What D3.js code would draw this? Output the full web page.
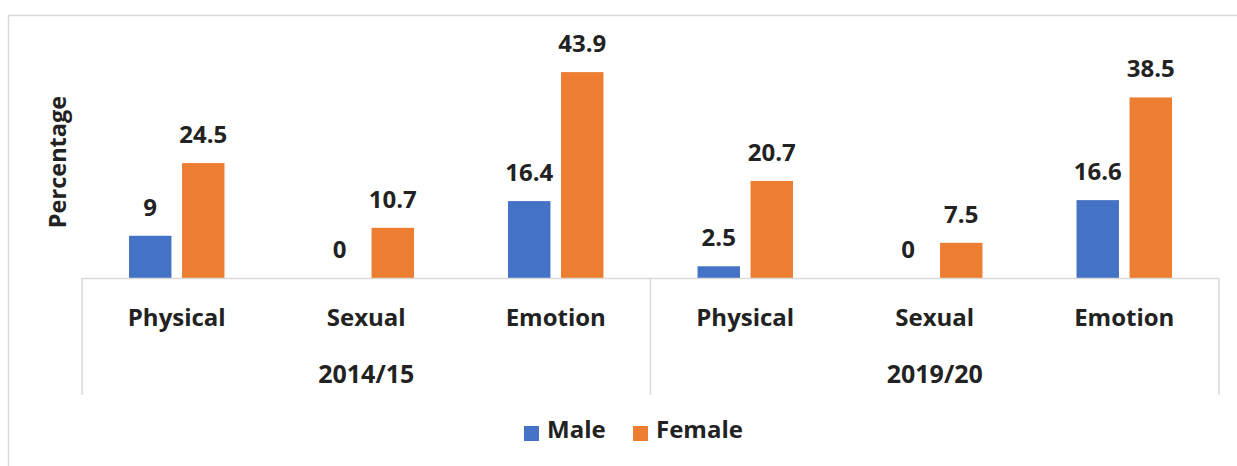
<!DOCTYPE html>
<html>
<head>
<meta charset="utf-8">
<script src="https://cdn.jsdelivr.net/npm/d3@7"></script>
<style>
  html, body { margin: 0; padding: 0; background: #fff; }
  svg { display: block; }
  text { font-family: "Open Sans", "DejaVu Sans", sans-serif; font-weight: 700; fill: #222; }
</style>
</head>
<body>
<svg id="chart" width="1237" height="466"></svg>
<script>
const years = ["2014/15", "2019/20"];
const categories = ["Physical", "Sexual", "Emotion"];
const seriesNames = ["Male", "Female"];
const maleValues = [9, 0, 16.4, 2.5, 0, 16.6];
const femaleValues = [24.5, 10.7, 43.9, 20.7, 7.5, 38.5];
const colors = ["#4472C4", "#ED7D31"];

const svg = d3.select("#chart");
const W = 1237, H = 466;
const left = 82, right = 1219, baseY = 278, topY = 43.5, divBottom = 395;
const gridColor = "#d9d9d9";

// outer frame
svg.append("rect")
  .attr("x", 8.5).attr("y", 15.5)
  .attr("width", W + 20).attr("height", H + 20)
  .attr("fill", "none").attr("stroke", gridColor).attr("stroke-width", 1.5);

const xYear = d3.scaleBand().domain(years).range([left, right]);
const xCat = d3.scaleBand().domain(categories).range([0, xYear.bandwidth()]);
const xSer = d3.scaleBand().domain(seriesNames).range([0, xCat.bandwidth()])
  .paddingInner(0.2).paddingOuter(0.887);
const y = d3.scaleLinear().domain([0, 50]).range([baseY, topY]);

const rows = [];
years.forEach((yr, i) => {
  categories.forEach((c, j) => {
    const k = i * categories.length + j;
    rows.push({ year: yr, cat: c, values: [maleValues[k], femaleValues[k]] });
  });
});

// bars
const g = svg.append("g");
rows.forEach(r => {
  const x0 = xYear(r.year) + xCat(r.cat);
  seriesNames.forEach((s, si) => {
    const v = r.values[si];
    const bx = x0 + xSer(s);
    g.append("rect")
      .attr("x", bx).attr("y", y(v))
      .attr("width", xSer.bandwidth()).attr("height", baseY - y(v))
      .attr("fill", colors[si]);
    g.append("text")
      .attr("x", bx + xSer.bandwidth() / 2)
      .attr("y", y(v) - 20)
      .attr("text-anchor", "middle")
      .attr("font-size", 24)
      .text(d3.format("~g")(v));
  });
  g.append("text")
    .attr("x", x0 + xCat.bandwidth() / 2)
    .attr("y", 326)
    .attr("text-anchor", "middle")
    .attr("font-size", 24)
    .text(r.cat);
});

// axis baseline and group dividers
svg.append("line")
  .attr("x1", left).attr("x2", right)
  .attr("y1", baseY + 0.5).attr("y2", baseY + 0.5)
  .attr("stroke", gridColor).attr("stroke-width", 1.5);
const dividers = years.map(yr => xYear(yr)).concat([xYear(years[years.length - 1]) + xYear.bandwidth()]);
svg.selectAll(".div").data(dividers).enter().append("line")
  .attr("x1", d => d).attr("x2", d => d)
  .attr("y1", baseY).attr("y2", divBottom)
  .attr("stroke", gridColor).attr("stroke-width", 1.5);

// year labels
years.forEach(yr => {
  svg.append("text")
    .attr("x", xYear(yr) + xYear.bandwidth() / 2)
    .attr("y", 383)
    .attr("text-anchor", "middle")
    .attr("font-size", 25)
    .text(yr);
});

// y axis title
svg.append("text")
  .attr("transform", "translate(66,162) rotate(-90)")
  .attr("text-anchor", "middle")
  .attr("font-size", 23.5)
  .text("Percentage");

// legend
const legendX = [524, 633];
seriesNames.forEach((s, i) => {
  svg.append("rect")
    .attr("x", legendX[i]).attr("y", 426)
    .attr("width", 15).attr("height", 15)
    .attr("fill", colors[i]);
  svg.append("text")
    .attr("x", legendX[i] + 23).attr("y", 438)
    .attr("font-size", 24)
    .text(s);
});
</script>
</body>
</html>
